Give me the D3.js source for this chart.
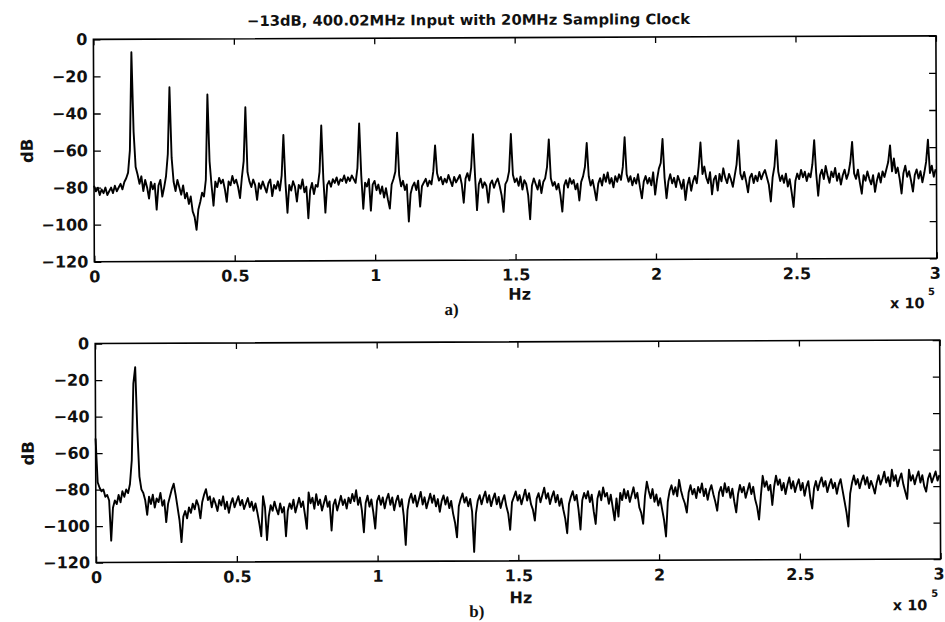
<!DOCTYPE html>
<html>
<head>
<meta charset="utf-8">
<script src="https://cdn.jsdelivr.net/npm/d3@7"></script>
<style>
  html, body { margin: 0; padding: 0; background: #fff; }
  svg { display: block; }
</style>
</head>
<body>
<svg id="chart" width="945" height="622"></svg>
<script>
// FFT bin spacing of both spectra (Hz); bin i sits at i * binWidthHz
const binWidthHz = 675;

const titleText = "\u221213dB, 400.02MHz Input with 20MHz Sampling Clock";

const xTickValues = [0, 50000, 100000, 150000, 200000, 250000, 300000];
const xTickLabels = ["0", "0.5", "1", "1.5", "2", "2.5", "3"];
const yTickValues = [0, -20, -40, -60, -80, -100, -120];
const yTickLabels = ["0", "\u221220", "\u221240", "\u221260", "\u221280", "\u2212100", "\u2212120"];

// Panel a): output spectrum with harmonics of the aliased tone (dB)
const spectrumA = [
  -79,-82,-80,-84,-81,-83,-80,-84,-82,-80,-83,-79,-82,-80,-78,-81,-77,-75,-72,-60,
  -7,-50,-69,-73,-78,-74,-82,-76,-80,-86,-77,-81,-78,-92,-79,-76,-85,-80,-74,-62,
  -26,-64,-77,-82,-76,-80,-84,-79,-86,-83,-89,-85,-93,-96,-103,-92,-88,-83,-85,-76,
  -30,-66,-79,-90,-77,-80,-75,-78,-76,-81,-88,-77,-79,-74,-78,-76,-80,-86,-75,-66,
  -37,-72,-77,-80,-76,-79,-87,-78,-81,-77,-80,-83,-78,-76,-85,-79,-81,-77,-82,-74,
  -52,-78,-94,-79,-82,-77,-80,-88,-79,-81,-76,-83,-80,-97,-82,-78,-84,-79,-80,-72,
  -47,-76,-94,-79,-77,-80,-76,-78,-75,-79,-76,-77,-74,-78,-75,-77,-74,-76,-78,-70,
  -46,-74,-92,-78,-80,-76,-93,-79,-77,-82,-79,-84,-80,-86,-81,-87,-92,-79,-76,-72,
  -51,-74,-80,-77,-82,-79,-99,-84,-80,-78,-82,-77,-91,-80,-78,-76,-80,-77,-79,-72,
  -58,-73,-77,-75,-79,-76,-78,-74,-77,-80,-75,-78,-76,-74,-79,-89,-76,-73,-77,-70,
  -52,-74,-93,-79,-76,-81,-78,-80,-89,-79,-77,-81,-78,-76,-80,-85,-94,-79,-77,-72,
  -52,-74,-78,-76,-80,-75,-82,-77,-79,-85,-98,-80,-76,-79,-82,-77,-84,-78,-76,-70,
  -55,-76,-80,-78,-82,-79,-85,-94,-80,-77,-81,-76,-79,-77,-82,-79,-88,-78,-75,-70,
  -57,-75,-80,-77,-82,-88,-79,-76,-80,-74,-78,-73,-79,-76,-81,-75,-78,-74,-77,-70,
  -54,-74,-78,-75,-80,-76,-79,-74,-81,-87,-78,-75,-79,-76,-80,-73,-85,-77,-71,-68,
  -55,-76,-87,-78,-74,-79,-76,-81,-75,-78,-82,-77,-88,-80,-76,-83,-78,-75,-79,-70,
  -57,-74,-70,-76,-79,-73,-85,-77,-75,-83,-74,-78,-71,-76,-79,-74,-77,-81,-75,-69,
  -56,-74,-77,-73,-78,-84,-76,-74,-79,-75,-78,-73,-77,-74,-72,-76,-80,-89,-76,-70,
  -56,-73,-78,-75,-79,-74,-81,-77,-84,-92,-78,-74,-77,-72,-76,-73,-78,-74,-76,-69,
  -56,-74,-86,-75,-72,-77,-70,-75,-79,-73,-76,-71,-78,-74,-80,-75,-72,-77,-74,-68,
  -57,-74,-77,-72,-79,-85,-75,-78,-73,-77,-80,-75,-84,-78,-74,-79,-73,-76,-72,-68,
  -59,-73,-66,-74,-71,-77,-85,-74,-70,-76,-73,-78,-84,-75,-72,-77,-73,-79,-74,-68,
  -56,-74,-70,-76,-72
];

// Panel b): output spectrum with a single clean tone (dB)
const spectrumB = [
  -52,-76,-79,-81,-80,-84,-83,-86,-108,-90,-86,-88,-83,-87,-81,-84,-80,-82,-77,-64,
  -22,-13,-48,-73,-80,-82,-86,-94,-84,-88,-83,-90,-85,-87,-82,-89,-86,-98,-88,-84,
  -80,-77,-83,-90,-97,-109,-95,-92,-96,-90,-93,-88,-91,-86,-89,-96,-87,-83,-80,-86,
  -84,-90,-85,-88,-92,-86,-89,-84,-91,-87,-93,-88,-85,-90,-87,-84,-89,-86,-91,-88,
  -85,-90,-87,-92,-88,-93,-99,-106,-84,-90,-108,-95,-89,-92,-87,-91,-94,-88,-93,-90,
  -106,-92,-88,-91,-86,-93,-89,-85,-90,-87,-94,-102,-82,-88,-85,-91,-83,-89,-86,-92,
  -88,-84,-90,-87,-103,-89,-86,-92,-88,-84,-89,-86,-91,-85,-88,-83,-87,-81,-89,-85,
  -92,-104,-88,-84,-90,-86,-93,-102,-87,-84,-89,-85,-91,-86,-83,-89,-85,-92,-87,-84,
  -90,-86,-95,-111,-92,-86,-83,-88,-84,-90,-86,-82,-89,-85,-91,-87,-83,-88,-84,-90,
  -86,-93,-87,-84,-89,-85,-91,-87,-94,-99,-107,-90,-86,-83,-88,-85,-90,-86,-93,-115,
  -94,-87,-84,-89,-85,-82,-88,-84,-90,-86,-83,-89,-85,-91,-87,-84,-90,-94,-103,-88,
  -85,-82,-87,-84,-89,-85,-81,-87,-83,-89,-92,-98,-86,-83,-88,-84,-80,-86,-83,-89,
  -85,-82,-88,-84,-90,-86,-92,-97,-105,-89,-85,-82,-87,-84,-92,-103,-87,-83,-86,-82,
  -88,-84,-93,-100,-86,-82,-87,-80,-85,-83,-89,-84,-91,-98,-86,-96,-83,-87,-81,-86,
  -82,-88,-84,-80,-86,-83,-91,-94,-100,-85,-77,-82,-86,-81,-88,-84,-90,-86,-92,-98,
  -107,-88,-82,-79,-84,-80,-85,-76,-82,-86,-89,-94,-83,-79,-84,-81,-86,-80,-83,-78,
  -85,-81,-87,-82,-79,-84,-88,-93,-83,-80,-85,-78,-83,-80,-86,-81,-88,-94,-84,-79,
  -83,-80,-86,-82,-78,-84,-80,-87,-91,-98,-85,-74,-80,-77,-82,-79,-90,-80,-74,-79,
  -76,-82,-78,-84,-79,-75,-81,-77,-83,-79,-76,-82,-78,-85,-80,-77,-86,-92,-81,-77,
  -82,-78,-75,-80,-77,-83,-79,-76,-81,-78,-84,-79,-76,-82,-88,-94,-102,-84,-78,-74,
  -79,-76,-81,-77,-74,-79,-75,-81,-77,-80,-84,-78,-74,-79,-76,-72,-78,-75,-80,-71,
  -77,-74,-80,-76,-73,-79,-83,-87,-71,-77,-74,-79,-75,-72,-78,-74,-80,-83,-76,-73,
  -78,-75,-72,-77,-74
];

const SANS = "'DejaVu Sans', 'Liberation Sans', Arial, sans-serif";
const SERIF = "'Liberation Serif', 'DejaVu Serif', 'Times New Roman', serif";

const svg = d3.select("#chart");
svg.append("rect").attr("width", 945).attr("height", 622).attr("fill", "#fff");

// the whole figure sits with a very slight tilt
const root = svg.append("g").attr("transform", "rotate(-0.24,470,300)");

root.append("text")
  .attr("x", 469.7).attr("y", 25)
  .attr("text-anchor", "middle")
  .attr("font-family", SANS).attr("font-weight", "bold").attr("font-size", 14.5)
  .attr("textLength", 443).attr("lengthAdjust", "spacingAndGlyphs")
  .attr("fill", "#111")
  .text(titleText);

const panels = [
  { data: spectrumA, left: 94.5, right: 937, top: 37.8, bottom: 260.2,
    dbX: 33.5, hzY: 300, tag: "a)", tagX: 451.6, tagY: 315,
    expX: 890, expY: 310, supX: 928, supY: 297 },
  { data: spectrumB, left: 95, right: 939.5, top: 342, bottom: 561,
    dbX: 33, hzY: 603.5, tag: "b)", tagX: 475.5, tagY: 617,
    expX: 891.5, expY: 612, supX: 930, supY: 598.6 }
];

panels.forEach(p => {
  const x = d3.scaleLinear().domain([0, 300000]).range([p.left, p.right]);
  const y = d3.scaleLinear().domain([-120, 0]).range([p.bottom, p.top]);
  const g = root.append("g");

  // spectrum trace
  const line = d3.line()
    .x((d, i) => x(i * binWidthHz))
    .y(d => y(d))
    .curve(d3.curveLinear);
  g.append("path")
    .datum(p.data)
    .attr("d", line)
    .attr("fill", "none")
    .attr("stroke", "#000")
    .attr("stroke-width", 1.9)
    .attr("stroke-linejoin", "round");

  // bottom axis with labels, inward ticks
  const axB = g.append("g").attr("transform", `translate(0,${p.bottom})`)
    .call(d3.axisBottom(x).tickValues(xTickValues)
      .tickFormat((d, i) => xTickLabels[i])
      .tickSizeInner(-6).tickSizeOuter(0).tickPadding(9));
  // left axis with labels
  const axL = g.append("g").attr("transform", `translate(${p.left},0)`)
    .call(d3.axisLeft(y).tickValues(yTickValues)
      .tickFormat((d, i) => yTickLabels[i])
      .tickSizeInner(-7).tickSizeOuter(0).tickPadding(6));
  // top and right axes: ticks only
  const axT = g.append("g").attr("transform", `translate(0,${p.top})`)
    .call(d3.axisTop(x).tickValues(xTickValues).tickFormat("")
      .tickSizeInner(-6).tickSizeOuter(0));
  const axR = g.append("g").attr("transform", `translate(${p.right},0)`)
    .call(d3.axisRight(y).tickValues(yTickValues).tickFormat("")
      .tickSizeInner(-7).tickSizeOuter(0));

  [axB, axL, axT, axR].forEach(ax => {
    ax.select(".domain").remove();
    ax.selectAll("line").attr("stroke", "#000").attr("stroke-width", 1.3);
    ax.attr("font-family", SANS).attr("font-size", 16).attr("font-weight", "bold");
    ax.selectAll("text").attr("fill", "#111");
  });
  // keep the last x label inside the page edge
  axB.selectAll(".tick text").filter((d, i) => i === xTickValues.length - 1)
    .attr("dx", -2);

  // plot box
  g.append("rect")
    .attr("x", p.left).attr("y", p.top)
    .attr("width", p.right - p.left).attr("height", p.bottom - p.top)
    .attr("fill", "none").attr("stroke", "#000").attr("stroke-width", 1.6);

  // axis titles
  g.append("text")
    .attr("transform", `translate(${p.dbX},${(p.top + p.bottom) / 2}) rotate(-90)`)
    .attr("text-anchor", "middle")
    .attr("font-family", SANS).attr("font-weight", "bold").attr("font-size", 16.5)
    .attr("fill", "#111")
    .text("dB");

  g.append("text")
    .attr("x", 519.7).attr("y", p.hzY)
    .attr("text-anchor", "middle")
    .attr("font-family", SANS).attr("font-weight", "bold").attr("font-size", 16)
    .attr("fill", "#111")
    .text("Hz");

  g.append("text")
    .attr("x", p.tagX).attr("y", p.tagY)
    .attr("text-anchor", "middle")
    .attr("font-family", SERIF).attr("font-weight", "bold").attr("font-size", 17)
    .attr("fill", "#111")
    .text(p.tag);

  // x-axis multiplier
  g.append("text")
    .attr("x", p.expX).attr("y", p.expY)
    .attr("font-family", SANS).attr("font-weight", "bold").attr("font-size", 14.5)
    .attr("fill", "#111")
    .text("x 10");
  g.append("text")
    .attr("x", p.supX).attr("y", p.supY)
    .attr("font-family", SANS).attr("font-weight", "bold").attr("font-size", 10)
    .attr("fill", "#111")
    .text("5");
});
</script>
</body>
</html>
